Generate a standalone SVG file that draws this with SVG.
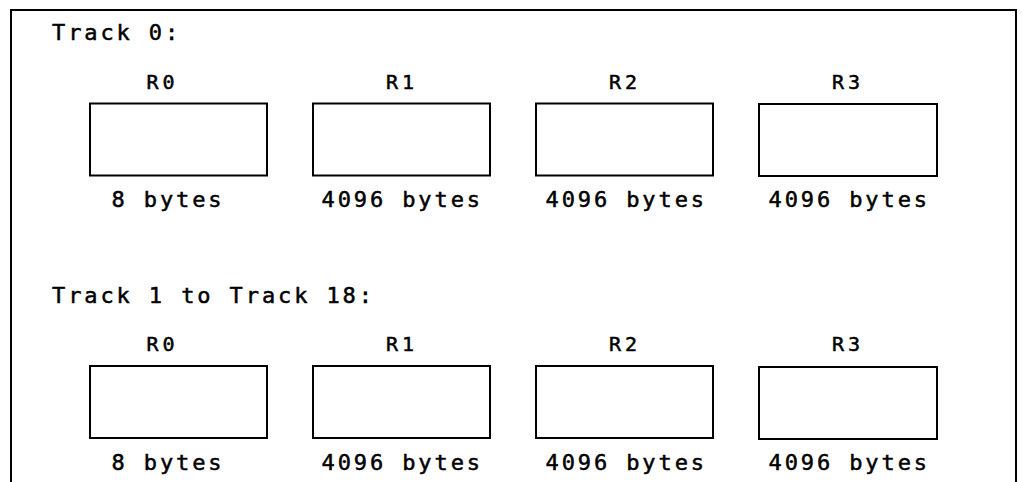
<svg xmlns="http://www.w3.org/2000/svg" width="1022" height="482" viewBox="0 0 1022 482">
<style>
.t{font-family:"DejaVu Sans Mono","Liberation Mono",monospace;font-size:22px;letter-spacing:2.9px;fill:#000;stroke:#000;stroke-width:0.5px}
.r{font-family:"DejaVu Sans Mono","Liberation Mono",monospace;font-size:20px;letter-spacing:4px;fill:#000;stroke:#000;stroke-width:0.5px}
.box{fill:#fff;stroke:#000;stroke-width:2}
.frame{fill:none;stroke:#000;stroke-width:2}
</style>
<rect width="1022" height="482" fill="#fff"/>
<path class="frame" d="M11,482 V10 H1016 V482"/>
<g id="track0-title"><text class="t" x="52" y="40">Track 0:</text></g>
<g id="t0-r0"><text class="r" x="146.5" y="89">R0</text><rect class="box" x="90" y="103.5" width="177" height="72"/><text class="t" x="111.5" y="207">8 bytes</text></g>
<g id="t0-r1"><text class="r" x="386" y="89">R1</text><rect class="box" x="313" y="103.5" width="177" height="72"/><text class="t" x="321.5" y="207">4096 bytes</text></g>
<g id="t0-r2"><text class="r" x="609" y="89">R2</text><rect class="box" x="536" y="103.5" width="177" height="72"/><text class="t" x="545.5" y="207">4096 bytes</text></g>
<g id="t0-r3"><text class="r" x="832" y="89">R3</text><rect class="box" x="759" y="104" width="178" height="72"/><text class="t" x="768.5" y="207">4096 bytes</text></g>
<g id="track1-title"><text class="t" x="52" y="303">Track 1 to Track 18:</text></g>
<g id="t1-r0"><text class="r" x="146.5" y="351">R0</text><rect class="box" x="90" y="366" width="177" height="72"/><text class="t" x="111.5" y="470">8 bytes</text></g>
<g id="t1-r1"><text class="r" x="386" y="351">R1</text><rect class="box" x="313" y="366" width="177" height="72"/><text class="t" x="321.5" y="470">4096 bytes</text></g>
<g id="t1-r2"><text class="r" x="609" y="351">R2</text><rect class="box" x="536" y="366" width="177" height="72"/><text class="t" x="545.5" y="470">4096 bytes</text></g>
<g id="t1-r3"><text class="r" x="832" y="351">R3</text><rect class="box" x="759" y="367" width="178" height="72"/><text class="t" x="768.5" y="470">4096 bytes</text></g>
<g id="connectors"/>
</svg>
